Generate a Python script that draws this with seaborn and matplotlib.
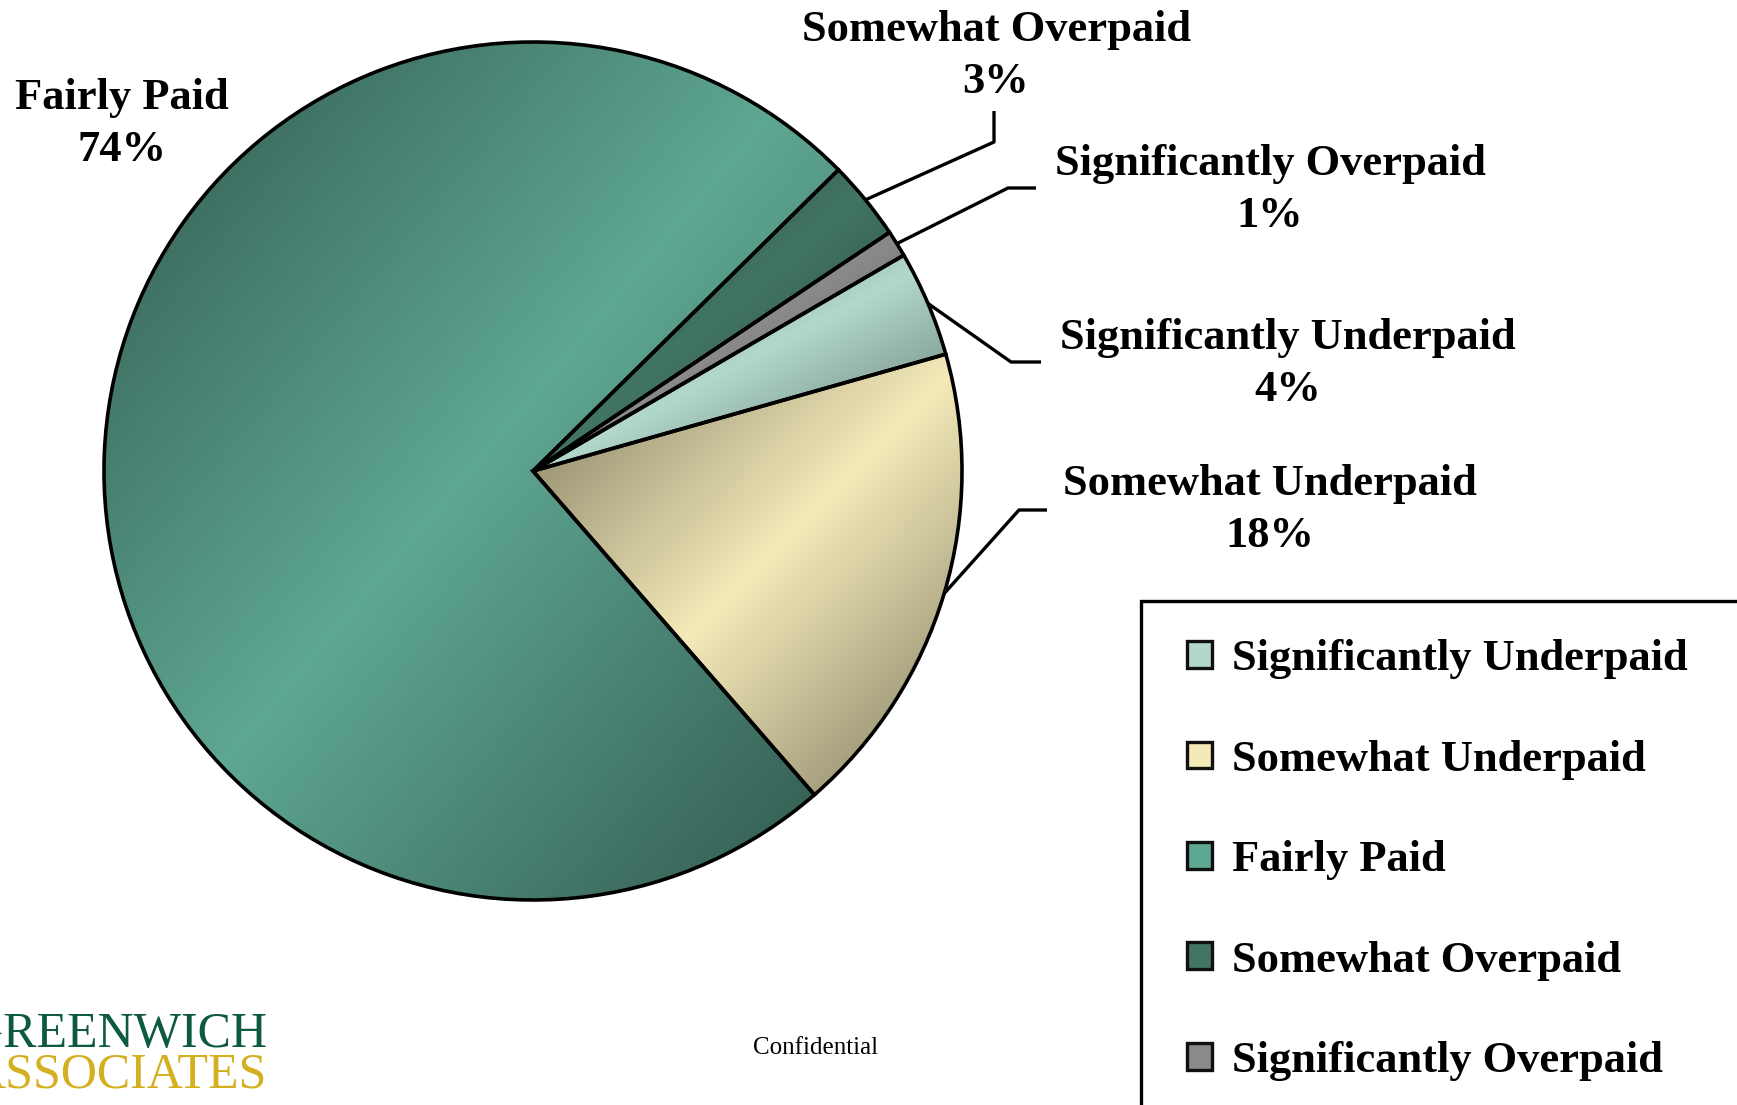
import numpy as np
import matplotlib
matplotlib.use("Agg")
import matplotlib.pyplot as plt
import seaborn as sns
from matplotlib.patches import Patch, Rectangle

# data
categories = ['Significantly Underpaid', 'Somewhat Underpaid', 'Fairly Paid',
              'Somewhat Overpaid', 'Significantly Overpaid']
shares = [4, 18, 74, 3, 1]
slice_colors = ['#b2d8cd', '#f4eab9', '#5ea793', '#427564', '#8a8a8a']

W, H = 1737, 1105

sns.set_theme(style='white')
plt.rcParams['font.family'] = ['Liberation Serif', 'DejaVu Serif']
plt.rcParams['text.color'] = 'black'


def px(x, y):
    # reference pixel position -> data coords (y up)
    return x, H - y


fig = plt.figure(figsize=(W / 100, H / 100), dpi=100)
ax = fig.add_axes([0, 0, 1, 1])

center = px(533, 471)
radius = 429
colors = sns.color_palette(slice_colors)

wedges, _ = ax.pie(shares, colors=colors, startangle=30.2, counterclock=False,
                   center=center, radius=radius,
                   wedgeprops=dict(edgecolor='black', linewidth=2.6))

# Excel-like diagonal gradient: light band along the diagonal, darker corners
n = 300
u, v = np.meshgrid(np.linspace(0, 1, n), np.linspace(0, 1, n))
band = np.abs(u + v - 1)
for w, col in zip(wedges, colors):
    verts = w.get_path().vertices
    x0, x1 = verts[:, 0].min(), verts[:, 0].max()
    y0, y1 = verts[:, 1].min(), verts[:, 1].max()
    shade = (1 - 0.48 * band)[..., None]
    img = np.clip(np.array(col)[None, None, :] * shade, 0, 1)
    im = ax.imshow(img, extent=(x0, x1, y0, y1), origin='upper',
                   interpolation='bilinear', zorder=0.5)
    im.set_clip_path(w)
    w.set_facecolor('none')

# label layout: text centre, elbow and end of leader line (reference pixels)
label_pos = {
    'Fairly Paid': ((122, 124), None, None),
    'Somewhat Overpaid': ((996, 56), (994, 142), (994, 111)),
    'Significantly Overpaid': ((1270, 190), (1008, 188), (1036, 188)),
    'Significantly Underpaid': ((1288, 364), (1011, 362), (1041, 362)),
    'Somewhat Underpaid': ((1270, 510), (1019, 510), (1047, 510)),
}

label_fs = 32
for w, cat, share in zip(wedges, categories, shares):
    (tx, ty), elbow, end = label_pos[cat]
    ax.text(*px(tx, ty), f'{cat}\n{share}%', ha='center', va='center',
            fontsize=label_fs, fontweight='bold', linespacing=1.38, color='black')
    if elbow is not None:
        ang = np.deg2rad((w.theta1 + w.theta2) / 2)
        ax0 = center[0] + radius * np.cos(ang)
        ay0 = center[1] + radius * np.sin(ang)
        ex, ey = px(*elbow)
        nx, ny = px(*end)
        ax.plot([ax0, ex, nx], [ay0, ey, ny], color='black', lw=2.4,
                solid_capstyle='butt', zorder=3)

ax.set_xlim(0, W)
ax.set_ylim(0, H)
ax.set_aspect('auto')
ax.axis('off')

# legend box runs off the right and bottom edges of the slide
fig.patches.append(Rectangle((1141 / W, -0.05), 0.5, 1 - 601 / H + 0.05,
                             transform=fig.transFigure, facecolor='white',
                             edgecolor='black', linewidth=2.4, zorder=1))

handles = [Patch(facecolor=c, edgecolor='#111111', linewidth=2.4, label=cat)
           for c, cat in zip(colors, categories)]
leg = fig.legend(handles=handles, loc='upper left',
                 bbox_to_anchor=(1149 / W, 1 - 601 / H), bbox_transform=fig.transFigure,
                 borderaxespad=0, prop=dict(weight='bold', size=label_fs),
                 labelcolor='black',
                 handlelength=0.55, handleheight=0.55, handletextpad=0.45,
                 labelspacing=1.36, borderpad=0.86, frameon=False)
leg.set_zorder(2)

# logo and footer
fig.text(267 / W, 1 - 1035 / H, 'GREENWICH', ha='right', va='center',
         fontsize=36, color='#0d5a3c')
fig.text(267 / W, 1 - 1075 / H, 'ASSOCIATES', ha='right', va='center',
         fontsize=36, color='#d4af1f')
fig.text(816 / W, 1 - 1048 / H, 'Confidential', ha='center', va='center',
         fontsize=18, color='black')

fig.savefig('out.png', dpi=100)
